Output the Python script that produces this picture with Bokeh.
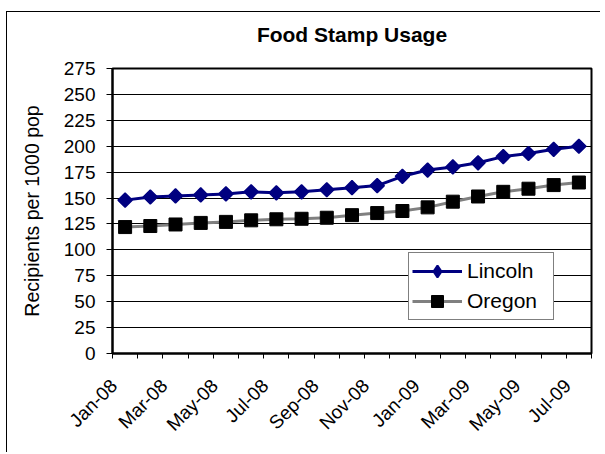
import math
from bokeh.plotting import figure
from bokeh.models import Range1d, FixedTicker, Legend, LegendItem, LinearAxis
from bokeh.embed import file_html
from bokeh.resources import INLINE

months = ["Jan-08", "Feb-08", "Mar-08", "Apr-08", "May-08", "Jun-08", "Jul-08",
          "Aug-08", "Sep-08", "Oct-08", "Nov-08", "Dec-08", "Jan-09", "Feb-09",
          "Mar-09", "Apr-09", "May-09", "Jun-09", "Jul-09"]
lincoln = [148, 151, 152, 153, 154, 156, 155, 156, 158, 160, 162, 171, 177, 180,
           184, 190, 193, 197, 200]
oregon = [122, 123, 124.5, 126, 127, 128.5, 129.5, 130, 131, 133.5, 135.5, 137.5,
          141, 146.5, 151.5, 156, 159, 162.5, 165]
y_ticks = list(range(0, 276, 25))
title_text = "Food Stamp Usage"

FONT = "Liberation Sans"

x = [i + 0.5 for i in range(len(months))]

p = figure(width=593, height=440, output_backend="svg", toolbar_location=None,
           x_range=Range1d(0, len(months)), y_range=Range1d(0, 275),
           min_border_left=105, min_border_right=9, min_border_top=56,
           min_border_bottom=99, frame_width=479, frame_height=285)
p.styles = {"margin-left": "6px", "margin-top": "11px",
            "border-left": "1px solid black", "border-top": "1px solid black"}

xa = p.below[0]

# title: label of a bare axis above the plot area
title_axis = LinearAxis(ticker=FixedTicker(ticks=[], minor_ticks=[]),
                        axis_label=title_text)
title_axis.axis_line_color = None
title_axis.major_tick_line_color = None
title_axis.minor_tick_line_color = None
title_axis.major_tick_out = 0
title_axis.major_tick_in = 0
title_axis.minor_tick_out = 0
title_axis.minor_tick_in = 0
title_axis.major_label_standoff = 0
title_axis.axis_label_text_font = FONT
title_axis.axis_label_text_font_size = "21px"
title_axis.axis_label_text_font_style = "bold"
title_axis.axis_label_text_color = "black"
title_axis.axis_label_standoff = 23
p.add_layout(title_axis, "above")

p.outline_line_color = "black"
p.outline_line_width = 2

# x axis: labels every other month, tick marks between categories
label_idx = list(range(0, len(months), 2))
shift = 0.45
xa.ticker = FixedTicker(ticks=[x[i] - shift for i in label_idx],
                        minor_ticks=list(range(len(months) + 1)))
xa.major_label_overrides = {x[i] - shift: months[i] for i in label_idx}
xa.major_tick_out = 0
xa.major_tick_in = 0
xa.minor_tick_out = 5
xa.minor_tick_in = 0
xa.minor_tick_line_color = "black"
xa.axis_line_color = "black"
xa.axis_line_width = 2
xa.major_label_orientation = math.pi / 4
xa.major_label_standoff = 24
xa.major_label_text_font = FONT
xa.major_label_text_font_size = "19px"
xa.major_label_text_color = "black"

# y axis
p.yaxis.ticker = FixedTicker(ticks=y_ticks)
p.yaxis.minor_tick_line_color = None
p.yaxis.major_tick_out = 6
p.yaxis.major_tick_in = 0
p.yaxis.major_tick_line_color = "black"
p.yaxis.axis_line_color = "black"
p.yaxis.axis_line_width = 2
p.yaxis.major_label_standoff = 11
p.yaxis.major_label_text_font = FONT
p.yaxis.major_label_text_font_size = "19px"
p.yaxis.major_label_text_color = "black"
p.yaxis.axis_label = "Recipients per 1000 pop"
p.yaxis.axis_label_text_font = FONT
p.yaxis.axis_label_text_font_size = "19.5px"
p.yaxis.axis_label_text_font_style = "normal"
p.yaxis.axis_label_text_color = "black"
p.yaxis.axis_label_standoff = 18

p.xgrid.grid_line_color = None
p.ygrid.grid_line_color = "#000000"
p.ygrid.grid_line_width = 1

l1 = p.line(x, lincoln, line_color="#000080", line_width=3)
m1 = p.scatter(x, lincoln, marker="square", angle=math.pi / 4, size=10,
               fill_color="#000080", line_color="#000080", line_width=1.5)
l2 = p.line(x, oregon, line_color="#808080", line_width=3)
m2 = p.scatter(x, oregon, marker="square", size=13, fill_color="black",
               line_color="black", line_width=1)

# legend-only marker glyphs (no data drawn)
lm1 = p.scatter([float("nan")], [float("nan")], marker="diamond", size=15,
                fill_color="#000080", line_color="#000080", line_width=2)
lm2 = p.scatter([float("nan")], [float("nan")], marker="square", size=11,
                fill_color="black", line_color="black")

legend = Legend(items=[LegendItem(label="Lincoln", renderers=[l1, lm1]),
                       LegendItem(label="Oregon", renderers=[l2, lm2])],
                location=(296, 33), orientation="vertical")
legend.label_text_font = FONT
legend.label_text_font_size = "21px"
legend.label_text_color = "black"
legend.glyph_width = 50
legend.glyph_height = 30
legend.label_height = 30
legend.label_width = 83
legend.spacing = 0
legend.padding = 3
legend.margin = 0
legend.label_standoff = 5
legend.border_line_color = "black"
legend.border_line_width = 1
legend.background_fill_color = "white"
legend.background_fill_alpha = 1
p.add_layout(legend, "center")

open("out.html", "w").write(file_html(p, INLINE))
